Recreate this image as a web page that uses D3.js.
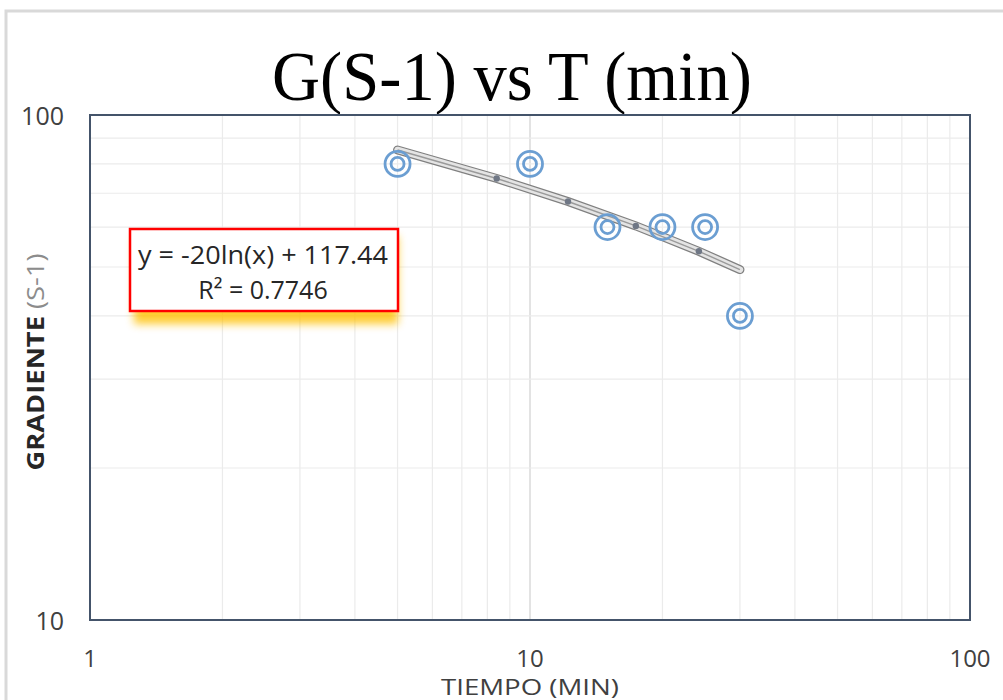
<!DOCTYPE html>
<html>
<head>
<meta charset="utf-8">
<script src="https://cdn.jsdelivr.net/npm/d3@7"></script>
<style>
  body { margin: 0; background: #fff; }
  svg { display: block; }
</style>
</head>
<body>
<svg id="chart" width="1003" height="700"></svg>
<script>
// data
var tiempo = [5, 10, 15, 20, 25, 30];
var gradiente = [80, 80, 60, 60, 60, 40];
// trendline y = -20 ln(x) + 117.44, joints seen on the drawn line
var trendA = -20, trendB = 117.44;
var trendX = [5, 8.4, 12.2, 17.4, 24.2, 30];
var xTicks = [1, 10, 100];
var yTicks = [10, 100];
var minorX = [2, 3, 4, 5, 6, 7, 8, 9, 10, 20, 30, 40, 50, 60, 70, 80, 90];
var minorY = [20, 30, 40, 50, 60, 70, 80, 90];

var svg = d3.select("#chart");
var pLeft = 90, pRight = 970, pTop = 115, pBottom = 620;

var x = d3.scaleLog().domain([1, 100]).range([pLeft, pRight]);
var y = d3.scaleLog().domain([10, 100]).range([pBottom, pTop]);

// outer frame of the chart area
svg.append("path")
  .attr("d", "M6,700 L6,11 L1003,11")
  .attr("fill", "none").attr("stroke", "#d9d9d9").attr("stroke-width", 3);

// title
svg.append("text")
  .attr("x", 512).attr("y", 100)
  .attr("text-anchor", "middle")
  .attr("textLength", 480).attr("lengthAdjust", "spacingAndGlyphs")
  .style("font-family", "'Liberation Serif', 'Times New Roman', serif")
  .style("font-size", "70px").style("fill", "#000")
  .text("G(S-1) vs T (min)");

// gridlines
svg.append("g").selectAll("line").data(minorX).enter().append("line")
  .attr("x1", function(d){ return x(d); }).attr("x2", function(d){ return x(d); })
  .attr("y1", pTop).attr("y2", pBottom)
  .attr("stroke", function(d){ return d == 10 ? "#d0d0d0" : "#ebebeb"; })
  .attr("stroke-width", 1.2);
svg.append("g").selectAll("line").data(minorY).enter().append("line")
  .attr("y1", function(d){ return y(d); }).attr("y2", function(d){ return y(d); })
  .attr("x1", pLeft).attr("x2", pRight)
  .attr("stroke", "#ebebeb").attr("stroke-width", 1.2);

// plot border
svg.append("rect")
  .attr("x", pLeft).attr("y", pTop).attr("width", pRight - pLeft).attr("height", pBottom - pTop)
  .attr("fill", "none").attr("stroke", "#44546a").attr("stroke-width", 2);

// axis tick labels
var labelFont = "'Open Sans', 'Noto Sans', sans-serif";
svg.append("g").selectAll("text").data(xTicks).enter().append("text")
  .attr("x", function(d){ return x(d); }).attr("y", 667)
  .attr("text-anchor", "middle")
  .style("font-family", labelFont).style("font-size", "24px").style("fill", "#404040")
  .text(function(d){ return d; });
svg.append("g").selectAll("text").data(yTicks).enter().append("text")
  .attr("x", 64).attr("y", function(d){ return y(d) + 10; })
  .attr("text-anchor", "end")
  .style("font-family", labelFont).style("font-size", "25px").style("fill", "#404040")
  .text(function(d){ return d; });

// axis titles
svg.append("text")
  .attr("x", 530).attr("y", 695)
  .attr("text-anchor", "middle")
  .attr("textLength", 178).attr("lengthAdjust", "spacingAndGlyphs")
  .style("font-family", labelFont).style("font-size", "22px").style("fill", "#404040")
  .text("TIEMPO (MIN)");
var yt = svg.append("text")
  .attr("transform", "translate(44,362) rotate(-90)")
  .attr("text-anchor", "middle")
  .attr("textLength", 217).attr("lengthAdjust", "spacingAndGlyphs")
  .style("font-family", labelFont).style("font-size", "23px");
yt.append("tspan").style("font-weight", "bold").style("fill", "#262626").text("GRADIENTE ");
yt.append("tspan").style("fill", "#8c8c8c").text("(S-1)");

// trendline, drawn as a compound grey line
var trendPts = trendX.map(function(t){ return [t, trendA * Math.log(t) + trendB]; });
var line = d3.line().x(function(d){ return x(d[0]); }).y(function(d){ return y(d[1]); });
svg.append("path").datum(trendPts).attr("d", line)
  .attr("fill", "none").attr("stroke", "#808080").attr("stroke-width", 9).attr("stroke-linecap", "round");
svg.append("path").datum(trendPts).attr("d", line)
  .attr("fill", "none").attr("stroke", "#e4e4e4").attr("stroke-width", 6.5).attr("stroke-linecap", "round");
svg.append("path").datum(trendPts).attr("d", line)
  .attr("fill", "none").attr("stroke", "#9a9a9a").attr("stroke-width", 1.4);
svg.append("g").selectAll("circle").data(trendPts.slice(1, -1)).enter().append("circle")
  .attr("cx", function(d){ return x(d[0]); }).attr("cy", function(d){ return y(d[1]); })
  .attr("r", 3.2).attr("fill", "#6f7785");

// data markers: double blue rings
var pts = tiempo.map(function(t, i){ return [t, gradiente[i]]; });
var mk = svg.append("g").selectAll("g").data(pts).enter().append("g")
  .attr("transform", function(d){ return "translate(" + x(d[0]) + "," + y(d[1]) + ")"; });
mk.append("circle").attr("r", 12.5).attr("fill", "none").attr("stroke", "#6b9ed2").attr("stroke-width", 2.8);
mk.append("circle").attr("r", 6.5).attr("fill", "none").attr("stroke", "#6b9ed2").attr("stroke-width", 2.8);

// equation box with a yellow glow
var defs = svg.append("defs");
var f = defs.append("filter").attr("id", "glow").attr("x", "-20%").attr("y", "-20%").attr("width", "140%").attr("height", "160%");
f.append("feGaussianBlur").attr("stdDeviation", 4);
svg.append("rect")
  .attr("x", 134).attr("y", 236).attr("width", 264).attr("height", 88)
  .attr("fill", "#ffc000").attr("opacity", 0.8).attr("filter", "url(#glow)");
svg.append("rect")
  .attr("x", 130).attr("y", 229).attr("width", 268).attr("height", 82)
  .attr("fill", "#fff").attr("stroke", "#ff0000").attr("stroke-width", 2.5);
svg.append("text")
  .attr("x", 263).attr("y", 264).attr("text-anchor", "middle")
  .attr("textLength", 250).attr("lengthAdjust", "spacingAndGlyphs")
  .style("font-family", labelFont).style("font-size", "25px").style("fill", "#262626")
  .text("y = -20ln(x) + 117.44");
svg.append("text")
  .attr("x", 263).attr("y", 299).attr("text-anchor", "middle")
  .style("font-family", labelFont).style("font-size", "25px").style("fill", "#262626")
  .text("R² = 0.7746");
</script>
</body>
</html>
